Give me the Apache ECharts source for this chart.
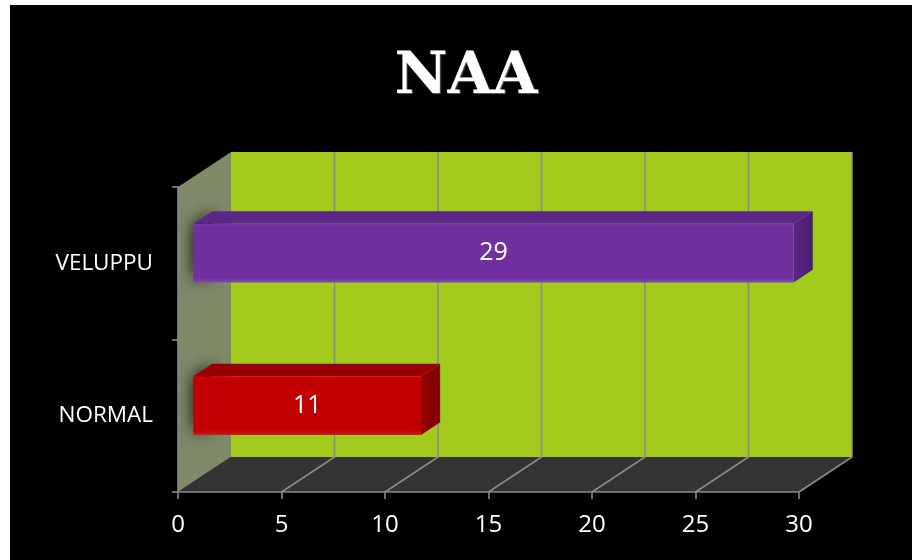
<!DOCTYPE html>
<html>
<head>
<meta charset="utf-8">
<script src="https://cdn.jsdelivr.net/npm/echarts@6/dist/echarts.min.js"></script>
<style>
  html, body { margin: 0; padding: 0; background: #ffffff; }
  #chart { position: absolute; left: 10px; top: 5px; width: 902px; height: 555px; background: #000000; }
</style>
</head>
<body>
<div id="chart"></div>
<script>
// Chart content
const chartTitle = 'NAA';
const categories = ['NORMAL', 'VELUPPU'];
const values = [11, 29];
const valueTicks = [0, 5, 10, 15, 20, 25, 30];

// Face colours per bar: [front, top, side]
const barPalette = [
  ['#c00000', '#960000', '#7e0000'],
  ['#7030a0', '#5a2688', '#4a1d70']
];

// Perspective of the pseudo-3D box (depth direction in pixels)
const DEPTH_X = 53;
const DEPTH_Y = -35;
const BAR_FRONT = 0.29;   // bar front face, as a fraction of the depth
const BAR_BACK = 0.65;    // bar back face
const BAR_THICK = 0.385;  // bar height as a fraction of the category band

const FONT = '"Open Sans", "Liberation Sans", sans-serif';
const GRID_GREY = '#8a8a8a';

const chart = echarts.init(document.getElementById('chart'), null, { renderer: 'canvas' });

function renderRoom(params, api) {
  const cs = params.coordSys;
  const left = cs.x, top = cs.y, bottom = cs.y + cs.height;
  const xEnd = api.coord([valueTicks[valueTicks.length - 1], 0])[0];
  const children = [];
  // side wall
  children.push({ type: 'polygon', shape: { points: [[left, top], [left + DEPTH_X, top + DEPTH_Y], [left + DEPTH_X, bottom + DEPTH_Y], [left, bottom]] },
    style: { fill: '#7f8a69' } });
  // floor
  children.push({ type: 'polygon', shape: { points: [[left, bottom], [xEnd, bottom], [xEnd + DEPTH_X, bottom + DEPTH_Y], [left + DEPTH_X, bottom + DEPTH_Y]] },
    style: { fill: '#333333' } });
  // back wall
  children.push({ type: 'rect', shape: { x: left + DEPTH_X, y: top + DEPTH_Y, width: xEnd - left, height: bottom - top },
    style: { fill: '#a3cb1d' } });
  // grid lines on floor and back wall
  valueTicks.forEach(function (v) {
    if (v === valueTicks[0]) return;
    const x = api.coord([v, 0])[0];
    children.push({ type: 'polyline', shape: { points: [[x, bottom], [x + DEPTH_X, bottom + DEPTH_Y], [x + DEPTH_X, top + DEPTH_Y]] },
      style: { stroke: GRID_GREY, lineWidth: 1.6, fill: null } });
  });
  return { type: 'group', children: children };
}

function renderBar(params, api) {
  const idx = params.dataIndex;
  const cat = api.value(1);
  const val = api.value(0);
  const p0 = api.coord([0, cat]);
  const p1 = api.coord([val, cat]);
  const band = api.size([0, 1])[1];
  const h = band * BAR_THICK;
  const fx = DEPTH_X * BAR_FRONT, fy = DEPTH_Y * BAR_FRONT;
  const dx = DEPTH_X * (BAR_BACK - BAR_FRONT), dy = DEPTH_Y * (BAR_BACK - BAR_FRONT);
  const l = p0[0] + fx, r = p1[0] + fx;
  const t = p0[1] - h / 2 + fy, b = p0[1] + h / 2 + fy;
  const pal = barPalette[idx % barPalette.length];
  return {
    type: 'group',
    children: [
      // hidden left end of the bar; only its blurred shadow shows on the side wall
      { type: 'polygon', shape: { points: [[l + 1, t + 1], [l + dx, t + dy + 1], [l + dx, b + dy], [l + 1, b - 1]] },
        style: { fill: '#000000', shadowBlur: 18, shadowColor: 'rgba(0,0,0,1)', shadowOffsetX: 0, shadowOffsetY: 0 } },
      // top face
      { type: 'polygon', shape: { points: [[l, t], [r, t], [r + dx, t + dy], [l + dx, t + dy]] },
        style: { fill: pal[1] } },
      // right face
      { type: 'polygon', shape: { points: [[r, t], [r + dx, t + dy], [r + dx, b + dy], [r, b]] },
        style: { fill: new echarts.graphic.LinearGradient(0, 0, 1, 0, [
          { offset: 0, color: pal[1] }, { offset: 1, color: pal[2] }]) } },
      // front face
      { type: 'rect', shape: { x: l, y: t, width: r - l, height: b - t },
        style: { fill: new echarts.graphic.LinearGradient(0, 0, 0, 1, [
          { offset: 0, color: echarts.color.lift(pal[0], -0.12) },
          { offset: 0.06, color: pal[0] },
          { offset: 0.92, color: pal[0] },
          { offset: 1, color: echarts.color.lift(pal[0], 0.12) }]) } },
      // value label
      { type: 'text', x: (l + r) / 2, y: (t + b) / 2,
        style: { text: String(val), fill: '#ffffff', font: '25px ' + FONT, align: 'center', verticalAlign: 'middle' } }
    ]
  };
}

const option = {
  backgroundColor: '#000000',
  animation: false,
  title: {
    text: chartTitle,
    left: 451, top: 39, textAlign: 'center',
    textStyle: { color: '#ffffff', fontFamily: '"DejaVu Serif", serif', fontWeight: 'bold', fontSize: 58,
      textShadowColor: 'rgba(160,160,160,0.6)', textShadowOffsetX: 1, textShadowOffsetY: 1, textShadowBlur: 1 }
  },
  grid: { left: 168, right: 113, top: 182, bottom: 68 },
  xAxis: {
    type: 'value', min: valueTicks[0], max: valueTicks[valueTicks.length - 1], interval: valueTicks[1] - valueTicks[0],
    axisLine: { show: true, lineStyle: { color: GRID_GREY, width: 1.6 } },
    axisTick: { show: true, length: 7, lineStyle: { color: GRID_GREY, width: 1.6 } },
    splitLine: { show: false },
    axisLabel: { color: '#ffffff', fontSize: 24, fontFamily: FONT, margin: 21 }
  },
  yAxis: {
    type: 'category', data: categories,
    axisLine: { show: true, lineStyle: { color: GRID_GREY, width: 1.6 } },
    axisTick: { show: true, length: 6, lineStyle: { color: GRID_GREY, width: 1.6 } },
    splitLine: { show: false },
    axisLabel: { color: '#ffffff', fontSize: 22.5, fontFamily: FONT, margin: 25 }
  },
  series: [
    { type: 'custom', z: -1, silent: true, renderItem: renderRoom, data: [[0, 0]] },
    { type: 'custom', z: 3, renderItem: renderBar,
      data: values.map(function (v, i) { return [v, i]; }) }
  ]
};
chart.setOption(option);
</script>
</body>
</html>
